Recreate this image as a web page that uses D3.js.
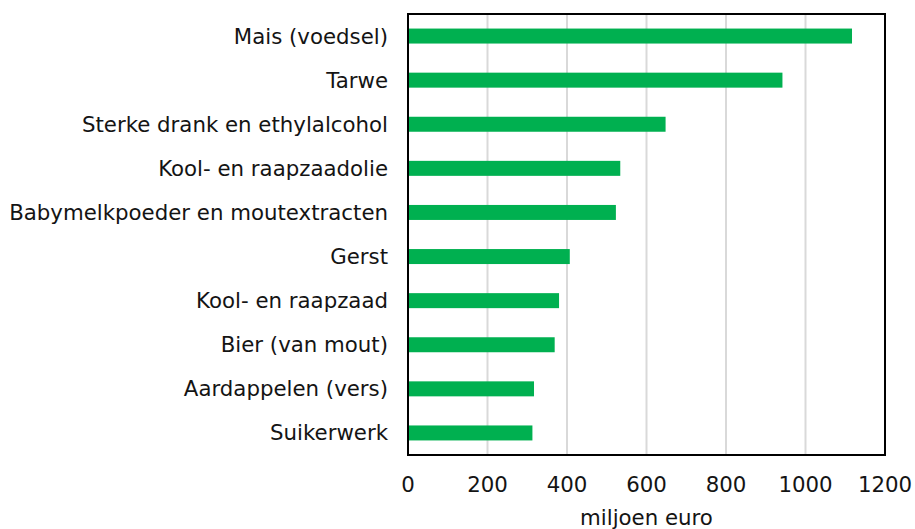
<!DOCTYPE html>
<html>
<head>
<meta charset="utf-8">
<script src="https://d3js.org/d3.v7.min.js"></script>
<style>
body, html {
    margin: 0;
    background: #fff;
    font-family: "DejaVu Sans", Verdana, sans-serif;
}
.grid line {
  stroke: #d9d9d9;
  stroke-width: 2;
}
.label {
  font-size: 21.3px;
  fill: #141414;
}
</style>
</head>
<body>
<div id="chart"></div>
<script>

// producten en waarden (miljoen euro)
var categories = ["Mais (voedsel)", "Tarwe", "Sterke drank en ethylalcohol", "Kool- en raapzaadolie",
  "Babymelkpoeder en moutextracten", "Gerst", "Kool- en raapzaad", "Bier (van mout)",
  "Aardappelen (vers)", "Suikerwerk"];
var values = [1117, 942, 648, 534, 523, 407, 380, 369, 317, 313];
var ticks = [0, 200, 400, 600, 800, 1000, 1200];
var axisTitle = "miljoen euro";

var width = 915,
    height = 529,
    margin = {top: 14, right: 30, bottom: 74, left: 408};

var svg = d3.select('#chart').append('svg')
  .attr('width', width)
  .attr('height', height);

var x = d3.scaleLinear()
  .domain([0, 1200])
  .range([margin.left, width - margin.right]);

var y = d3.scaleBand()
  .domain(categories)
  .range([margin.top, height - margin.bottom])
  .paddingInner(0.66)
  .paddingOuter(0.33);

// rasterlijnen
svg.append('g')
  .attr('class', 'grid')
  .selectAll('line')
  .data(ticks.slice(1, -1))
  .enter().append('line')
  .attr('x1', d => x(d)).attr('x2', d => x(d))
  .attr('y1', margin.top).attr('y2', height - margin.bottom);

// balken
svg.append('g')
  .selectAll('rect')
  .data(values)
  .enter().append('rect')
  .attr('x', x(0))
  .attr('y', (d, i) => y(categories[i]))
  .attr('width', d => x(d) - x(0))
  .attr('height', y.bandwidth())
  .attr('fill', '#00b050');

// kader
svg.append('rect')
  .attr('x', x(0))
  .attr('y', margin.top)
  .attr('width', x(1200) - x(0))
  .attr('height', height - margin.bottom - margin.top)
  .attr('fill', 'none')
  .attr('stroke', '#000')
  .attr('stroke-width', 2);

// categorie labels
svg.append('g')
  .selectAll('text')
  .data(categories)
  .enter().append('text')
  .attr('class', 'label')
  .attr('x', x(0) - 20)
  .attr('y', d => y(d) + y.bandwidth() / 2)
  .attr('dy', '0.35em')
  .attr('text-anchor', 'end')
  .text(d => d);

// x-as labels
svg.append('g')
  .selectAll('text')
  .data(ticks)
  .enter().append('text')
  .attr('class', 'label')
  .attr('x', d => x(d))
  .attr('y', height - margin.bottom + 37)
  .attr('text-anchor', 'middle')
  .text(d => d);

svg.append('text')
  .attr('class', 'label')
  .attr('x', x(600))
  .attr('y', height - margin.bottom + 70)
  .attr('text-anchor', 'middle')
  .text(axisTitle);

</script>
</body>
</html>
